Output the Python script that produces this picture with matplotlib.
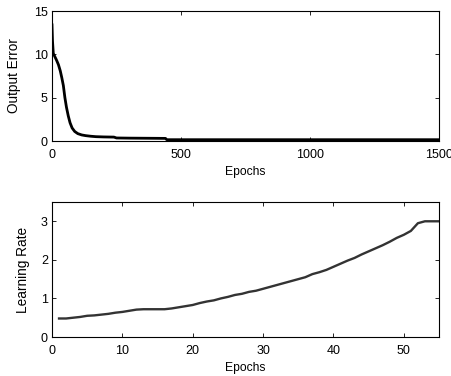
import matplotlib
matplotlib.use("Agg")
import matplotlib.pyplot as plt

# training error vs epochs
err_epochs = [0, 2, 5, 10, 18, 25, 32, 38, 44, 50, 56, 63, 70, 78, 88, 100, 115,
              130, 150, 170, 200, 240, 250, 300, 350, 400, 440, 445, 600, 800,
              1000, 1200, 1400, 1500]
err_values = [13.4, 11.5, 10.1, 9.8, 9.3, 8.8, 8.1, 7.3, 6.4, 5.0, 3.9, 2.9, 2.1,
              1.5, 1.1, 0.85, 0.7, 0.62, 0.55, 0.5, 0.47, 0.45, 0.35, 0.33, 0.32,
              0.31, 0.3, 0.15, 0.15, 0.15, 0.15, 0.15, 0.15, 0.15]

# learning rate per epoch
lr_epochs = list(range(1, 56))
lr_values = [0.48, 0.48, 0.50, 0.52, 0.55, 0.56, 0.58, 0.60, 0.63, 0.65,
             0.68, 0.71, 0.72, 0.72, 0.72, 0.72, 0.74, 0.77, 0.80, 0.83,
             0.88, 0.92, 0.95, 1.00, 1.04, 1.09, 1.12, 1.17, 1.20, 1.25,
             1.30, 1.35, 1.40, 1.45, 1.50, 1.55, 1.63, 1.68, 1.74, 1.82,
             1.90, 1.98, 2.05, 2.14, 2.22, 2.30, 2.38, 2.47, 2.57, 2.65,
             2.75, 2.95, 3.00, 3.00, 3.00]

plt.rcParams["font.family"] = "Liberation Sans"
plt.rcParams["font.size"] = 8

fig = plt.figure(figsize=(4.52, 3.76), dpi=100)
W, H = 452.0, 376.0
ax1 = fig.add_axes([52 / W, 1 - 141 / H, 387 / W, 130 / H])
ax2 = fig.add_axes([52 / W, 1 - 337 / H, 387 / W, 135 / H])

ax1.plot(err_epochs, err_values, color="black", linewidth=2)
ax1.set_xlim(0, 1500)
ax1.set_ylim(0, 15)
ax1.set_xticks([0, 500, 1000, 1500])
ax1.set_yticks([0, 5, 10, 15])
ax1.set_xlabel("Epochs", fontsize=8.7, labelpad=3)
ax1.set_ylabel("Output Error", fontsize=9.8, labelpad=9)

ax2.plot(lr_epochs, lr_values, color="#333333", linewidth=1.7)
ax2.set_xlim(0, 55)
ax2.set_ylim(0, 3.5)
ax2.set_xticks([0, 10, 20, 30, 40, 50])
ax2.set_yticks([0, 1, 2, 3])
ax2.set_xlabel("Epochs", fontsize=8.7, labelpad=3)
ax2.set_ylabel("Learning Rate", fontsize=9.8, labelpad=8)

for ax in (ax1, ax2):
    ax.tick_params(direction="in", top=True, right=True, length=3, width=0.6,
                   labelsize=9)
    ax.tick_params(axis="x", pad=6)
    ax.tick_params(axis="y", pad=3)
    for s in ax.spines.values():
        s.set_linewidth(0.8)

fig.savefig("out.png", dpi=100)
